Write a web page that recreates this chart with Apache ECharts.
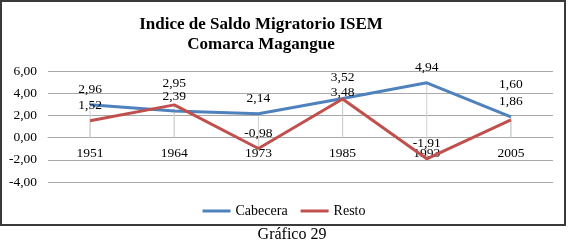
<!DOCTYPE html>
<html>
<head>
<meta charset="utf-8">
<script src="https://cdn.jsdelivr.net/npm/echarts@6/dist/echarts.min.js"></script>
<style>
html, body { margin: 0; padding: 0; background: #fff; }
#main { width: 568px; height: 242px; }
</style>
</head>
<body>
<div id="main"></div>
<script>
// datos del grafico
var years = ['1951', '1964', '1973', '1985', '1993', '2005'];
var cabecera = [2.96, 2.39, 2.14, 3.52, 4.94, 1.86];
var resto = [1.52, 2.95, -0.98, 3.48, -1.91, 1.60];
var yTicks = { min: -4, max: 6, step: 2 };

var serif = 'Liberation Serif';
var gridColor = '#a8a8a8';

function coma(v) {
	return v.toFixed(2).replace('.', ',');
}

// desplazamiento vertical de algunas etiquetas (como en el original)
var labelNudge = {
	'Cabecera': { 3: -6 },
	'Resto': { 1: -6, 3: 9, 5: -20 }
};

function lineSeries(name, values, color) {
	return {
		name: name,
		type: 'line',
		data: values.map(function (v, i) {
			var dy = labelNudge[name][i] || 0;
			return { value: v, label: { offset: [0, dy] } };
		}),
		symbol: 'circle',
		symbolSize: 0.1,
		lineStyle: { color: color, width: 3 },
		itemStyle: { color: color },
		label: {
			show: true,
			position: 'top',
			distance: 8,
			color: '#000',
			fontFamily: serif,
			fontSize: 13.5,
			formatter: function (p) { return coma(p.value); }
		},
		z: 3
	};
}

// lineas de proyeccion hasta el eje
function dropSeries(values) {
	return {
		type: 'bar',
		data: values,
		barWidth: 1,
		barGap: '-100%',
		silent: true,
		itemStyle: { color: '#cfcfcf' },
		z: 1
	};
}

var legendText = { fontFamily: serif, fontSize: 14, color: '#000' };

var myChart = echarts.init(document.getElementById('main'));
var option = {
	animation: false,
	textStyle: { fontFamily: serif },
	title: {
		text: 'Indice de Saldo Migratorio ISEM\nComarca Magangue',
		left: 261,
		top: 15,
		padding: 0,
		textAlign: 'center',
		textStyle: {
			fontFamily: serif,
			fontWeight: 'bold',
			fontSize: 17,
			lineHeight: 20,
			color: '#000'
		}
	},
	legend: {
		data: [
			{ name: 'Cabecera', textStyle: legendText },
			{ name: 'Resto', textStyle: legendText }
		],
		left: 'center',
		top: 199,
		icon: 'rect',
		itemWidth: 28,
		itemHeight: 3,
		itemGap: 13,
		textStyle: legendText
	},
	grid: { left: 48, right: 15, top: 71, bottom: 60 },
	xAxis: {
		type: 'category',
		data: years,
		boundaryGap: true,
		axisLine: { onZero: true, lineStyle: { color: gridColor, width: 1 } },
		axisTick: { show: false },
		// etiquetas junto a la linea del cero, como en el original
		axisLabel: { margin: -36, color: '#000', fontFamily: serif, fontSize: 13.5 }
	},
	yAxis: {
		type: 'value',
		min: yTicks.min,
		max: yTicks.max,
		interval: yTicks.step,
		axisLine: { show: false },
		axisTick: { show: false },
		splitLine: { lineStyle: { color: gridColor, width: 1 } },
		axisLabel: {
			margin: 11,
			color: '#000',
			fontFamily: serif,
			fontSize: 13.5,
			formatter: function (v) { return coma(v); }
		}
	},
	series: [
		dropSeries(cabecera),
		dropSeries(resto),
		lineSeries('Cabecera', cabecera, '#4f81bd'),
		lineSeries('Resto', resto, '#c0504d')
	],
	graphic: [
		{
			type: 'rect',
			shape: { x: 1, y: 1, width: 564, height: 224 },
			style: { fill: 'none', stroke: '#3a3a3a', lineWidth: 2 },
			silent: true
		},
		{
			type: 'text',
			style: {
				text: 'Gráfico 29',
				x: 292,
				y: 235,
				align: 'center',
				verticalAlign: 'middle',
				fontFamily: serif,
				fontSize: 16,
				fill: '#000'
			},
			silent: true
		}
	]
};
myChart.setOption(option);
</script>
</body>
</html>
